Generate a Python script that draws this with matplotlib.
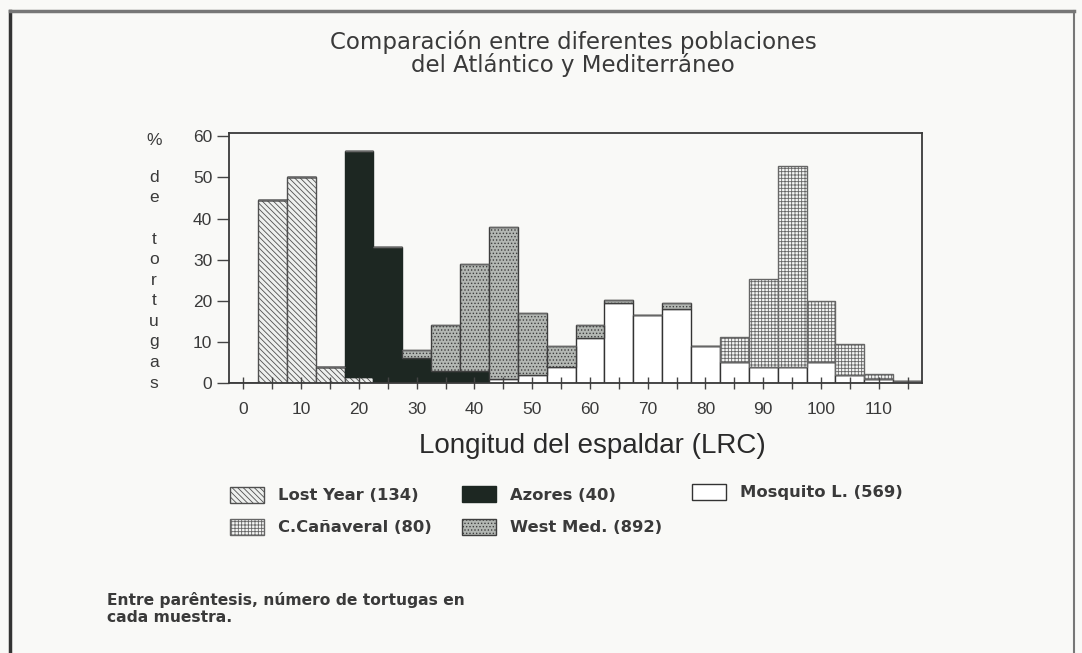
import numpy as np
import matplotlib.pyplot as plt
from matplotlib.patches import Rectangle
from matplotlib.lines import Line2D

# Datos: % de tortugas por clase de 5 cm (barras apiladas)
clases = [0, 5, 10, 15, 20, 25, 30, 35, 40, 45, 50, 55,
          60, 65, 70, 75, 80, 85, 90, 95, 100, 105, 110, 115]
lost_year = [0, 44.5, 50, 4, 1.5, 0, 0, 0, 0, 0, 0, 0,
             0, 0, 0, 0, 0, 0, 0, 0, 0, 0, 0, 0]
azores = [0, 0, 0, 0, 55, 33, 6, 3, 3, 0, 0, 0,
          0, 0, 0, 0, 0, 0, 0, 0, 0, 0, 0, 0]
mosquito = [0, 0, 0, 0, 0, 0, 0, 0, 0, 1, 2, 4,
            11, 19.5, 16.5, 18, 9, 5, 4, 4, 5, 2, 1, 0.5]
west_med = [0, 0, 0, 0, 0, 0, 2, 11, 26, 37, 15, 5,
            3, 0.8, 0, 1.5, 0, 0, 0, 0, 0, 0, 0, 0]
canaveral = [0, 0, 0, 0, 0, 0, 0, 0, 0, 0, 0, 0,
             0, 0, 0, 0, 0, 6.25, 21.25, 48.75, 15, 7.5, 1.25, 0]

nombres = ['Lost Year (134)', 'Azores (40)', 'Mosquito L. (569)',
           'West Med. (892)', 'C.Cañaveral (80)']
x_ticks = [0, 10, 20, 30, 40, 50, 60, 70, 80, 90, 100, 110]
x_labels = ['0', '10', '20', '30', '40', '50', '60', '70', '80', '90', '100', '110']
y_ticks = [0, 10, 20, 30, 40, 50, 60]
y_letras = ['%', 'd', 'e', 't', 'o', 'r', 't', 'u', 'g', 'a', 's']
y_pos_letras = [59, 50, 45, 35, 30, 25, 20, 15, 10, 5, 0]

papel = '#f9f9f7'
tinta = '#3a3a3a'
plt.rcParams['hatch.linewidth'] = 0.6

# estilos de relleno de cada muestra
estilos = [
    dict(facecolor='#eef0ee', edgecolor='#505050', hatch='\\\\\\\\\\\\'),
    dict(facecolor='#1d2722', edgecolor='#1d2722', hatch=None),
    dict(facecolor='white', edgecolor='#333333', hatch=None),
    dict(facecolor='#b3b7b3', edgecolor='#3e3e3e', hatch='.....'),
    dict(facecolor='#f4f5f4', edgecolor='#666666', hatch='+++++'),
]

fig = plt.figure(figsize=(10.82, 6.53), dpi=100, facecolor=papel)
W, H = 1082, 653
ax = fig.add_axes([229 / W, 1 - 383 / H, 693 / W, 250 / H])
ax.set_facecolor(papel)

# barras apiladas
series = [lost_year, azores, mosquito, west_med, canaveral]
base = np.zeros(len(clases))
for datos, est in zip(series, estilos):
    datos = np.array(datos, dtype=float)
    ax.bar(clases, datos, width=5, bottom=base, linewidth=1.0,
           align='center', **est)
    base = base + datos

ax.set_xlim(-2.5, 117.5)
ax.set_ylim(0, 60.8)

ax.set_xticks(x_ticks)
ax.set_xticklabels(x_labels)
ax.set_xticks([c for c in clases if c not in x_ticks], minor=True)
ax.tick_params(axis='x', which='both', direction='inout', length=8,
               width=1.0, color='#444444', pad=10)
ax.tick_params(axis='x', which='major', labelsize=12.5, labelcolor=tinta)
ax.set_yticks(y_ticks)
ax.tick_params(axis='y', direction='out', length=9, width=1.0,
               color='#444444', pad=3, labelsize=12.5, labelcolor=tinta)
for lab in ax.get_xticklabels() + ax.get_yticklabels():
    lab.set_family('Liberation Sans')

for s in ax.spines.values():
    s.set_color('#3a3a3a')
    s.set_linewidth(1.3)

# etiqueta vertical letra a letra
for letra, yp in zip(y_letras, y_pos_letras):
    ax.text(-15.5, yp, letra, ha='center', va='center', fontsize=12.5,
            color=tinta, family='Liberation Sans', clip_on=False)

fig.text(573 / W, 1 - 42 / H, 'Comparación entre diferentes poblaciones',
         ha='center', va='center', fontsize=16.5, color=tinta)
fig.text(573 / W, 1 - 65 / H, 'del Atlántico y Mediterráneo',
         ha='center', va='center', fontsize=16.5, color=tinta)
fig.text(592 / W, 1 - 446 / H, 'Longitud del espaldar (LRC)',
         ha='center', va='center', fontsize=20, color='#2a2a2a',
         family='Liberation Sans')

# leyenda dibujada a mano
pos_leyenda = [(230, 487), (462, 486), (692, 484), (462, 519), (230, 519)]
for (px, py), est, nombre in zip(pos_leyenda, estilos, nombres):
    r = Rectangle((px / W, 1 - (py + 16) / H), 34 / W, 16 / H,
                  transform=fig.transFigure, linewidth=1.0, **est)
    fig.add_artist(r)
    fig.text((px + 48) / W, 1 - (py + 9) / H, nombre, ha='left', va='center',
             fontsize=11.8, fontweight='bold', color=tinta)

fig.text(107 / W, 1 - 600 / H, 'Entre parêntesis, número de tortugas en',
         ha='left', va='center', fontsize=11.2, fontweight='bold', color=tinta)
fig.text(107 / W, 1 - 618 / H, 'cada muestra.',
         ha='left', va='center', fontsize=11.2, fontweight='bold', color=tinta)

# marco de la pagina escaneada
fig.add_artist(Line2D([10 / W, 10 / W], [0, 1 - 11 / H], color='#333333',
                      linewidth=2.5, transform=fig.transFigure))
fig.add_artist(Line2D([10 / W, 1074 / W], [1 - 11 / H, 1 - 11 / H],
                      color='#777777', linewidth=2.5, transform=fig.transFigure))
fig.add_artist(Line2D([1074 / W, 1074 / W], [0, 1 - 11 / H], color='#777777',
                      linewidth=1.5, transform=fig.transFigure))

fig.savefig('out.png', dpi=100, facecolor=papel)
